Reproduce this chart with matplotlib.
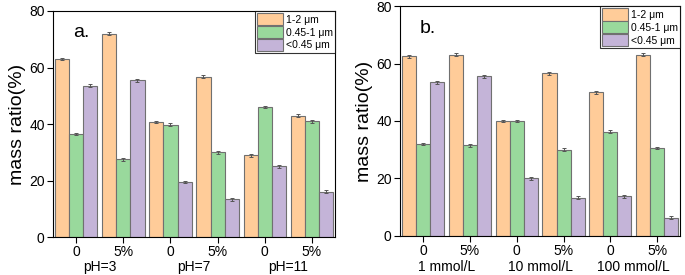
import numpy as np
import matplotlib.pyplot as plt

plt.rcParams["font.family"] = ["Liberation Sans", "DejaVu Sans"]

# data
series = ["1-2 μm", "0.45-1 μm", "<0.45 μm"]
ticks = ["0", "5%", "0", "5%", "0", "5%"]
groups_a = ["pH=3", "pH=7", "pH=11"]
groups_b = ["1 mmol/L", "10 mmol/L", "100 mmol/L"]

a_big = [63.0, 72.0, 40.7, 56.7, 29.0, 43.0]
a_mid = [36.5, 27.5, 39.8, 30.0, 46.0, 41.0]
a_small = [53.5, 55.5, 19.5, 13.3, 25.0, 16.0]

b_big = [62.5, 63.0, 40.0, 56.6, 50.0, 63.0]
b_mid = [32.0, 31.5, 40.0, 30.0, 36.2, 30.6]
b_small = [53.5, 55.5, 20.0, 13.3, 13.8, 6.4]

err = 0.5
colors = ["#FFCC99", "#99D99C", "#C4B4D8"]

fig = plt.figure(figsize=(6.85, 2.75), dpi=100)
ax1 = fig.add_axes([0.0774, 0.138, 0.4117, 0.822])
ax2 = fig.add_axes([0.584, 0.142, 0.409, 0.836])


def draw(ax, vals, groups, letter, lx):
    x = np.arange(6)
    w = 0.3
    for i, v in enumerate(vals):
        ax.bar(x + (i - 1) * w, v, w, color=colors[i], edgecolor="#707070",
               linewidth=0.8, label=series[i],
               yerr=err, capsize=1.5,
               error_kw=dict(ecolor="#555555", elinewidth=0.7, capthick=0.7))
    ax.set_xlim(-0.49, 5.49)
    ax.set_ylim(0, 80)
    ax.set_yticks([0, 20, 40, 60, 80])
    ax.set_xticks(x)
    ax.set_xticklabels(ticks)
    ax.tick_params(direction="out", length=4, labelsize=10, pad=2)
    ax.set_ylabel("mass ratio(%)", fontsize=14, labelpad=2)
    for k, g in enumerate(groups):
        ax.text(2 * k + 0.5, -0.103, g, transform=ax.get_xaxis_transform(),
                ha="center", va="top", fontsize=10)
    ax.text(lx, 72.3, letter, ha="center", va="center", fontsize=14)
    leg = ax.legend(loc="upper right", fontsize=7.5, frameon=True,
                    fancybox=False, edgecolor="black", handlelength=2.5,
                    handleheight=1.45, borderpad=0.2, labelspacing=0.05,
                    handletextpad=0.3, borderaxespad=0.0)
    leg.get_frame().set_linewidth(0.8)


draw(ax1, [a_big, a_mid, a_small], groups_a, "a.", 0.12)
draw(ax2, [b_big, b_mid, b_small], groups_b, "b.", 0.1)

fig.savefig("out.png", dpi=100)
